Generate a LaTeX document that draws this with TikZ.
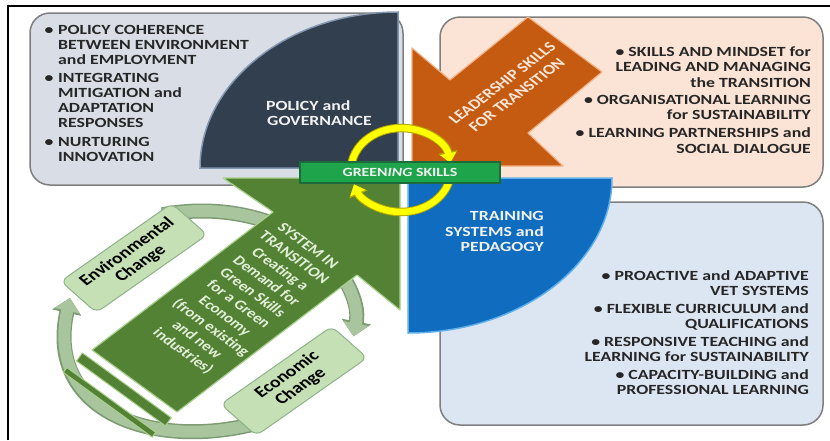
\documentclass[tikz,border=0pt]{standalone}
\usepackage{fontspec}
\setmainfont{Carlito}
\newfontfamily\widefont{Carlito}[FakeStretch=1.27]
\usetikzlibrary{arrows.meta}

\definecolor{panelline}{HTML}{7F7F7F}
\definecolor{graypanel}{HTML}{D9DEE6}
\definecolor{peachpanel}{HTML}{FBE4D5}
\definecolor{bluepanel}{HTML}{DCE6F2}
\definecolor{navy}{HTML}{323F4F}
\definecolor{navyedge}{HTML}{8497B0}
\definecolor{midblue}{HTML}{0F6CBF}
\definecolor{blueedge}{HTML}{5FB0EA}
\definecolor{rust}{HTML}{C55A11}
\definecolor{rustedge}{HTML}{F4B183}
\definecolor{leaf}{HTML}{548235}
\definecolor{leafedge}{HTML}{A9D18E}
\definecolor{sage}{HTML}{A9C59D}
\definecolor{sageedge}{HTML}{7E9C74}
\definecolor{mint}{HTML}{C5E0B4}
\definecolor{mintedge}{HTML}{8DB38A}
\definecolor{labelgreen}{HTML}{1EA54B}
\definecolor{labeledge}{HTML}{1D6B3A}
\definecolor{sun}{HTML}{FFFF00}
\definecolor{sunedge}{HTML}{B5A800}
\definecolor{inktext}{HTML}{262626}
\definecolor{paletext}{HTML}{F2F2F2}
\definecolor{leaftext}{HTML}{E2EFD9}
\definecolor{rusttext}{HTML}{FCE8DA}

\begin{document}
\begin{tikzpicture}[x=1pt, y=-1pt,
  panel/.style={rounded corners=20pt, draw=panelline, line width=1.5pt},
  bodyline/.style={font=\widefont\bfseries\fontsize{14}{15}\selectfont, text=inktext, inner sep=0pt},
  quadline/.style={font=\widefont\bfseries\fontsize{14}{15}\selectfont, text=paletext, inner sep=0pt},
  turned/.style={transform shape, align=center, inner sep=0pt},
  changebox/.style={transform shape, draw=mintedge, fill=mint, line width=1pt,
    rounded corners=7pt, minimum width=117pt, minimum height=42pt, align=center,
    inner sep=0pt, text=black, font=\bfseries\fontsize{15.5}{16}\selectfont},
  cycleback/.style={draw=sageedge, line width=15pt, -{Triangle[width=29pt,length=15pt]}},
  cyclefront/.style={draw=sage, line width=12pt, -{Triangle[width=25pt,length=13pt]}},
  sunback/.style={draw=sunedge, line width=8.5pt, -{Triangle[width=19pt,length=11pt]}},
  sunfront/.style={draw=sun, line width=6.5pt, -{Triangle[width=16pt,length=9.5pt]}},
  barstyle/.style={fill=leaf, draw=leafedge, line width=1pt, line join=round}]

\useasboundingbox (0,0) rectangle (830,440);
\fill[white] (0,0) rectangle (830,440);

% outer frame
\draw[line width=1.5pt] (8,440) -- (8,6) -- (830,6);

% text panels
\draw[panel, fill=graypanel] (30,13) rectangle (403,185);
\draw[panel, fill=peachpanel] (440,17) rectangle (823,187);
\draw[panel, fill=bluepanel] (440,202) rectangle (823,425);

% change cycle arrows
\draw[cycleback] (202,321) ++(-105:153 and 110) arc[start angle=-105, end angle=8, x radius=153, y radius=110];
\draw[cyclefront] (202,321) ++(-105:153 and 110) arc[start angle=-105, end angle=8, x radius=153, y radius=110];
\draw[cycleback] (254,424) .. controls (150,450) and (45,410) .. (70,298);
\draw[cyclefront] (254,424) .. controls (150,450) and (45,410) .. (70,298);

% change boxes
\begin{scope}[shift={(134,258)}, xscale=1.27]
  \node[changebox, rotate=41.7] (env) at (0,0) {Environmental\\Change};
\end{scope}
\begin{scope}[shift={(294,381)}, xscale=1.27]
  \node[changebox, rotate=41.7] (econ) at (0,0) {Economic\\Change};
\end{scope}

% four quadrants
\draw[fill=navy, draw=navyedge, line width=1.5pt] (398,168) -- (200,168)
  arc[start angle=180, end angle=270, x radius=198, y radius=156] -- cycle;
\draw[fill=midblue, draw=blueedge, line width=1.5pt] (408,178) -- (612,178)
  arc[start angle=0, end angle=90, x radius=204, y radius=155] -- cycle;
\draw[fill=rust, draw=rustedge, line width=1.2pt, line join=round]
  (412,166) -- (412,48) -- (450,80) -- (528,17) -- (602,72) -- (528,133) -- (563,166) -- cycle;
\draw[fill=leaf, draw=leafedge, line width=1.2pt, line join=round]
  (400,178) -- (223,178) -- (273,212) -- (92,350) -- (177,412) -- (357,275) -- (400,310) -- cycle;

% base bars of the transition arrow
\draw[barstyle] (82.4,352.9) -- (171.3,417.7) -- (165.4,425.8) -- (76.5,361.0) -- cycle;
\draw[barstyle] (66.8,367.5) -- (155.7,432.3) -- (152.2,437.2) -- (63.3,372.4) -- cycle;

% yellow cycle in the centre
\draw[sunback] (401,170) ++(-185:50 and 42) arc[start angle=-185, end angle=-10, x radius=50, y radius=42];
\draw[sunfront] (401,170) ++(-185:50 and 42) arc[start angle=-185, end angle=-10, x radius=50, y radius=42];
\draw[sunback] (401,170) ++(8:50 and 42) arc[start angle=8, end angle=160, x radius=50, y radius=42];
\draw[sunfront] (401,170) ++(8:50 and 42) arc[start angle=8, end angle=160, x radius=50, y radius=42];

% centre label
\node[draw=labeledge, fill=labelgreen, line width=1.2pt, minimum width=200pt,
  minimum height=21pt, inner sep=0pt, text=paletext,
  font=\widefont\bfseries\fontsize{12.5}{13}\selectfont] (greening) at (400,172.5)
  {GREEN\textit{ING} SKILLS};

% quadrant titles
\node[quadline, anchor=base west] (pg1) at (266,110.5) {POLICY and};
\node[quadline, anchor=base west] (pg2) at (267,125.5) {GOVERNANCE};
\node[quadline, anchor=base east] (tr1) at (544,220.5) {TRAINING};
\node[quadline, anchor=base east] (tr2) at (544,236) {SYSTEMS and};
\node[quadline, anchor=base east] (tr3) at (544,251) {PEDAGOGY};
\begin{scope}[shift={(509.5,89)}, xscale=1.27]
  \node[turned, rotate=44, text=rusttext, font=\bfseries\fontsize{14}{16.5}\selectfont] (lead)
    at (0,0) {LEADERSHIP SKILLS\\FOR TRANSITION};
\end{scope}
\begin{scope}[shift={(245,299)}, xscale=1.27]
  \node[turned, rotate=-43, text=leaftext, font=\bfseries\fontsize{13.5}{16}\selectfont] (sys)
    at (0,0) {SYSTEM IN\\TRANSITION\\Creating a\\Demand for\\Green Skills\\for a Green\\Economy\\(from existing\\and new\\industries)};
\end{scope}

% policy panel list
\node[bodyline, anchor=base] (gb1) at (49,34) {\textbullet};
\node[bodyline, anchor=base west] (g11) at (58,34) {POLICY COHERENCE};
\node[bodyline, anchor=base west] (g12) at (58,49) {BETWEEN ENVIRONMENT};
\node[bodyline, anchor=base west] (g13) at (58,64) {and EMPLOYMENT};
\node[bodyline, anchor=base] (gb2) at (49,82.5) {\textbullet};
\node[bodyline, anchor=base west] (g21) at (58,82.5) {INTEGRATING};
\node[bodyline, anchor=base west] (g22) at (58,97.5) {MITIGATION and};
\node[bodyline, anchor=base west] (g23) at (58,112.5) {ADAPTATION};
\node[bodyline, anchor=base west] (g24) at (58,127.5) {RESPONSES};
\node[bodyline, anchor=base] (gb3) at (49,146) {\textbullet};
\node[bodyline, anchor=base west] (g31) at (58,146) {NURTURING};
\node[bodyline, anchor=base west] (g32) at (58,161) {INNOVATION};

% leadership panel list
\node[bodyline, anchor=base east] (p11) at (811,56) {\textbullet\ SKILLS AND MINDSET for};
\node[bodyline, anchor=base east] (p12) at (811,71) {LEADING AND MANAGING};
\node[bodyline, anchor=base east] (p13) at (811,87) {the TRANSITION};
\node[bodyline, anchor=base east] (p21) at (811,104) {\textbullet\ ORGANISATIONAL LEARNING};
\node[bodyline, anchor=base east] (p22) at (811,119.5) {for SUSTAINABILITY};
\node[bodyline, anchor=base east] (p31) at (811,137.5) {\textbullet\ LEARNING PARTNERSHIPS and};
\node[bodyline, anchor=base east] (p32) at (811,153.5) {SOCIAL DIALOGUE};

% training panel list
\node[bodyline, anchor=base east] (b11) at (809,280) {\textbullet\ PROACTIVE and ADAPTIVE};
\node[bodyline, anchor=base east] (b12) at (809,295) {VET SYSTEMS};
\node[bodyline, anchor=base east] (b21) at (809,313) {\textbullet\ FLEXIBLE CURRICULUM and};
\node[bodyline, anchor=base east] (b22) at (809,328) {QUALIFICATIONS};
\node[bodyline, anchor=base east] (b31) at (809,346) {\textbullet\ RESPONSIVE TEACHING and};
\node[bodyline, anchor=base east] (b32) at (809,361.5) {LEARNING for SUSTAINABILITY};
\node[bodyline, anchor=base east] (b41) at (809,379) {\textbullet\ CAPACITY-BUILDING and};
\node[bodyline, anchor=base east] (b42) at (809,394.5) {PROFESSIONAL LEARNING};

\end{tikzpicture}
\end{document}
